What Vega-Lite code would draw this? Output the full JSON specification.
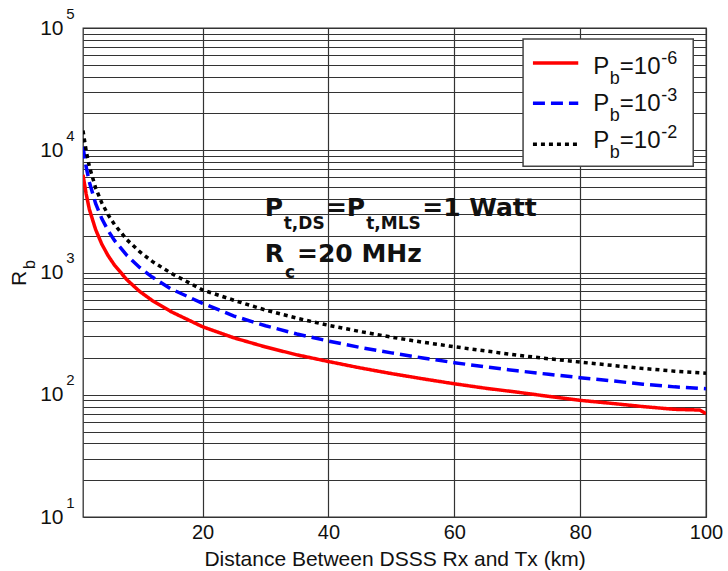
{
  "$schema": "https://vega.github.io/schema/vega-lite/v6.json",
  "width": 623,
  "height": 489,
  "autosize": {"type": "none"},
  "padding": {"left": 83, "top": 28, "right": 22, "bottom": 54},
  "background": "white",
  "config": {
    "view": {"stroke": "#333", "strokeWidth": 1.3},
    "font": "Liberation Sans"
  },
  "datasets": {
    "curves": [
      {"d": 1, "rb": 6300, "series": "red"},
      {"d": 1.5, "rb": 4400, "series": "red"},
      {"d": 2, "rb": 3300, "series": "red"},
      {"d": 3, "rb": 2250, "series": "red"},
      {"d": 4, "rb": 1700, "series": "red"},
      {"d": 5, "rb": 1370, "series": "red"},
      {"d": 6, "rb": 1150, "series": "red"},
      {"d": 8, "rb": 870, "series": "red"},
      {"d": 10, "rb": 700, "series": "red"},
      {"d": 12, "rb": 590, "series": "red"},
      {"d": 15, "rb": 478, "series": "red"},
      {"d": 20, "rb": 360, "series": "red"},
      {"d": 25, "rb": 292, "series": "red"},
      {"d": 30, "rb": 246, "series": "red"},
      {"d": 35, "rb": 212, "series": "red"},
      {"d": 40, "rb": 187, "series": "red"},
      {"d": 45, "rb": 166, "series": "red"},
      {"d": 50, "rb": 149, "series": "red"},
      {"d": 55, "rb": 135, "series": "red"},
      {"d": 60, "rb": 123, "series": "red"},
      {"d": 65, "rb": 113, "series": "red"},
      {"d": 70, "rb": 105, "series": "red"},
      {"d": 75, "rb": 97, "series": "red"},
      {"d": 80, "rb": 90, "series": "red"},
      {"d": 85, "rb": 85, "series": "red"},
      {"d": 90, "rb": 80, "series": "red"},
      {"d": 95, "rb": 76, "series": "red"},
      {"d": 99, "rb": 75, "series": "red"},
      {"d": 100, "rb": 70, "series": "red"},
      {"d": 1, "rb": 10700, "series": "blue"},
      {"d": 1.5, "rb": 7300, "series": "blue"},
      {"d": 2, "rb": 5500, "series": "blue"},
      {"d": 3, "rb": 3670, "series": "blue"},
      {"d": 4, "rb": 2750, "series": "blue"},
      {"d": 5, "rb": 2200, "series": "blue"},
      {"d": 6, "rb": 1830, "series": "blue"},
      {"d": 8, "rb": 1375, "series": "blue"},
      {"d": 10, "rb": 1100, "series": "blue"},
      {"d": 12, "rb": 917, "series": "blue"},
      {"d": 15, "rb": 733, "series": "blue"},
      {"d": 20, "rb": 560, "series": "blue"},
      {"d": 25, "rb": 440, "series": "blue"},
      {"d": 30, "rb": 367, "series": "blue"},
      {"d": 35, "rb": 314, "series": "blue"},
      {"d": 40, "rb": 275, "series": "blue"},
      {"d": 45, "rb": 244, "series": "blue"},
      {"d": 50, "rb": 220, "series": "blue"},
      {"d": 55, "rb": 200, "series": "blue"},
      {"d": 60, "rb": 183, "series": "blue"},
      {"d": 65, "rb": 169, "series": "blue"},
      {"d": 70, "rb": 157, "series": "blue"},
      {"d": 75, "rb": 147, "series": "blue"},
      {"d": 80, "rb": 138, "series": "blue"},
      {"d": 85, "rb": 130, "series": "blue"},
      {"d": 90, "rb": 122, "series": "blue"},
      {"d": 95, "rb": 116, "series": "blue"},
      {"d": 100, "rb": 112, "series": "blue"},
      {"d": 1, "rb": 14500, "series": "black"},
      {"d": 1.5, "rb": 9900, "series": "black"},
      {"d": 2, "rb": 7400, "series": "black"},
      {"d": 3, "rb": 4930, "series": "black"},
      {"d": 4, "rb": 3700, "series": "black"},
      {"d": 5, "rb": 2960, "series": "black"},
      {"d": 6, "rb": 2470, "series": "black"},
      {"d": 8, "rb": 1850, "series": "black"},
      {"d": 10, "rb": 1480, "series": "black"},
      {"d": 12, "rb": 1233, "series": "black"},
      {"d": 15, "rb": 987, "series": "black"},
      {"d": 20, "rb": 720, "series": "black"},
      {"d": 25, "rb": 592, "series": "black"},
      {"d": 30, "rb": 493, "series": "black"},
      {"d": 35, "rb": 423, "series": "black"},
      {"d": 40, "rb": 370, "series": "black"},
      {"d": 45, "rb": 329, "series": "black"},
      {"d": 50, "rb": 296, "series": "black"},
      {"d": 55, "rb": 269, "series": "black"},
      {"d": 60, "rb": 247, "series": "black"},
      {"d": 65, "rb": 228, "series": "black"},
      {"d": 70, "rb": 211, "series": "black"},
      {"d": 75, "rb": 197, "series": "black"},
      {"d": 80, "rb": 185, "series": "black"},
      {"d": 85, "rb": 174, "series": "black"},
      {"d": 90, "rb": 164, "series": "black"},
      {"d": 95, "rb": 156, "series": "black"},
      {"d": 100, "rb": 150, "series": "black"}
    ]
  },
  "resolve": {"axis": {"x": "independent", "y": "independent"}},
  "layer": [
    {
      "data": {"name": "curves"},
      "mark": {"type": "line", "strokeWidth": 3.5, "strokeCap": "butt", "clip": true},
      "encoding": {
        "x": {
          "field": "d", "type": "quantitative",
          "scale": {"domain": [1, 100], "nice": false, "zero": false},
          "axis": {
            "values": [20, 40, 60, 80, 100],
            "title": "Distance Between DSSS Rx and Tx (km)",
            "titleFontSize": 21, "titleFontWeight": "normal", "titleColor": "#111",
            "titleBaseline": "alphabetic", "titleY": 48,
            "labelFontSize": 20, "labelColor": "#111", "labelPadding": 5,
            "labelFlush": false,
            "ticks": false, "domain": false,
            "grid": true, "gridColor": "#333", "gridWidth": 1.2, "gridOpacity": 1
          }
        },
        "y": {
          "field": "rb", "type": "quantitative",
          "scale": {"type": "log", "domain": [10, 100000], "nice": false},
          "axis": {
            "values": [10, 20, 30, 40, 50, 60, 70, 80, 90, 100, 200, 300, 400, 500, 600, 700, 800, 900, 1000, 2000, 3000, 4000, 5000, 6000, 7000, 8000, 9000, 10000, 20000, 30000, 40000, 50000, 60000, 70000, 80000, 90000, 100000],
            "labelExpr": "(datum.value == 10 || datum.value == 100 || datum.value == 1000 || datum.value == 10000 || datum.value == 100000) ? '10' : ''",
            "labelFontSize": 21, "labelColor": "#111", "labelPadding": 20, "labelFlush": false,
            "labelBaseline": "middle", "labelAlign": "right",
            "title": "R", "titleFontSize": 21, "titleFontWeight": "normal", "titleColor": "#111",
            "titleAngle": 270, "titleAlign": "center", "titleBaseline": "alphabetic",
            "titleX": -58, "titleY": 250,
            "ticks": false, "domain": false,
            "grid": true, "gridColor": "#333", "gridWidth": 1.2, "gridOpacity": 1
          }
        },
        "color": {
          "field": "series", "type": "nominal",
          "scale": {"domain": ["red", "blue", "black"], "range": ["#ff0000", "#0000ff", "#000000"]},
          "legend": null
        },
        "strokeDash": {
          "field": "series", "type": "nominal",
          "scale": {"domain": ["red", "blue", "black"], "range": [[1, 0], [12, 6], [4, 4]]},
          "legend": null
        }
      }
    },
    {
      "data": {"values": [{}]},
      "mark": {"type": "rect", "fill": "white", "stroke": "#444", "strokeWidth": 1.5},
      "encoding": {
        "x": {"datum": 70.93, "type": "quantitative", "axis": null},
        "x2": {"datum": 97.97},
        "y": {"datum": 81240, "type": "quantitative",
          "axis": {
            "orient": "left", "labels": false, "ticks": false, "domain": false, "grid": false,
            "title": "b", "titleFontSize": 16, "titleFontWeight": "normal", "titleColor": "#111",
            "titleAngle": 270, "titleAlign": "center", "titleBaseline": "alphabetic",
            "titleX": -49, "titleY": 236
          }
        },
        "y2": {"datum": 7395}
      }
    },
    {
      "data": {"values": [{}]},
      "mark": {"type": "rule", "color": "#ff0000", "strokeWidth": 3.5},
      "encoding": {
        "x": {"datum": 72.5, "type": "quantitative", "axis": null},
        "x2": {"datum": 79.7},
        "y": {"datum": 51660, "type": "quantitative",
          "axis": {
            "orient": "left", "values": [10, 100, 1000, 10000, 100000],
            "labelExpr": "datum.value == 10 ? '1' : datum.value == 100 ? '2' : datum.value == 1000 ? '3' : datum.value == 10000 ? '4' : '5'",
            "labelFontSize": 15, "labelColor": "#111", "labelPadding": 9, "labelOffset": -15,
            "labelAlign": "right", "labelBaseline": "middle", "labelFlush": false, "labelOverlap": false,
            "ticks": false, "domain": false, "grid": false, "title": null
          }
        }
      }
    },
    {
      "data": {"values": [{}]},
      "mark": {"type": "rule", "color": "#0000ff", "strokeWidth": 3.5, "strokeDash": [12, 6]},
      "encoding": {
        "x": {"datum": 72.5, "type": "quantitative", "axis": null},
        "x2": {"datum": 79.7},
        "y": {"datum": 24280, "type": "quantitative", "axis": null}
      }
    },
    {
      "data": {"values": [{}]},
      "mark": {"type": "rule", "color": "#000000", "strokeWidth": 3.5, "strokeDash": [4, 4]},
      "encoding": {
        "x": {"datum": 72.5, "type": "quantitative", "axis": null},
        "x2": {"datum": 79.7},
        "y": {"datum": 11200, "type": "quantitative", "axis": null}
      }
    },
    {
      "data": {"values": [{}]},
      "mark": {"type": "text", "fontSize": 24, "align": "left", "baseline": "alphabetic", "color": "#111"},
      "encoding": {
        "x": {"datum": 82.1, "type": "quantitative", "axis": null},
        "y": {"datum": 41980, "type": "quantitative", "axis": null},
        "text": {"value": "P"}
      }
    },
    {
      "data": {"values": [{}]},
      "mark": {"type": "text", "fontSize": 18, "align": "left", "baseline": "alphabetic", "color": "#111"},
      "encoding": {
        "x": {"datum": 84.7, "type": "quantitative", "axis": null},
        "y": {"datum": 34750, "type": "quantitative", "axis": null},
        "text": {"value": "b"}
      }
    },
    {
      "data": {"values": [{}]},
      "mark": {"type": "text", "fontSize": 24, "align": "left", "baseline": "alphabetic", "color": "#111"},
      "encoding": {
        "x": {"datum": 86.3, "type": "quantitative", "axis": null},
        "y": {"datum": 41980, "type": "quantitative", "axis": null},
        "text": {"value": "=10"}
      }
    },
    {
      "data": {"values": [{}]},
      "mark": {"type": "text", "fontSize": 18, "align": "left", "baseline": "alphabetic", "color": "#111"},
      "encoding": {
        "x": {"datum": 92.9, "type": "quantitative", "axis": null},
        "y": {"datum": 50690, "type": "quantitative", "axis": null},
        "text": {"value": "-6"}
      }
    },
    {
      "data": {"values": [{}]},
      "mark": {"type": "text", "fontSize": 24, "align": "left", "baseline": "alphabetic", "color": "#111"},
      "encoding": {
        "x": {"datum": 82.1, "type": "quantitative", "axis": null},
        "y": {"datum": 20870, "type": "quantitative", "axis": null},
        "text": {"value": "P"}
      }
    },
    {
      "data": {"values": [{}]},
      "mark": {"type": "text", "fontSize": 18, "align": "left", "baseline": "alphabetic", "color": "#111"},
      "encoding": {
        "x": {"datum": 84.7, "type": "quantitative", "axis": null},
        "y": {"datum": 17290, "type": "quantitative", "axis": null},
        "text": {"value": "b"}
      }
    },
    {
      "data": {"values": [{}]},
      "mark": {"type": "text", "fontSize": 24, "align": "left", "baseline": "alphabetic", "color": "#111"},
      "encoding": {
        "x": {"datum": 86.3, "type": "quantitative", "axis": null},
        "y": {"datum": 20870, "type": "quantitative", "axis": null},
        "text": {"value": "=10"}
      }
    },
    {
      "data": {"values": [{}]},
      "mark": {"type": "text", "fontSize": 18, "align": "left", "baseline": "alphabetic", "color": "#111"},
      "encoding": {
        "x": {"datum": 92.9, "type": "quantitative", "axis": null},
        "y": {"datum": 25210, "type": "quantitative", "axis": null},
        "text": {"value": "-3"}
      }
    },
    {
      "data": {"values": [{}]},
      "mark": {"type": "text", "fontSize": 24, "align": "left", "baseline": "alphabetic", "color": "#111"},
      "encoding": {
        "x": {"datum": 82.1, "type": "quantitative", "axis": null},
        "y": {"datum": 10390, "type": "quantitative", "axis": null},
        "text": {"value": "P"}
      }
    },
    {
      "data": {"values": [{}]},
      "mark": {"type": "text", "fontSize": 18, "align": "left", "baseline": "alphabetic", "color": "#111"},
      "encoding": {
        "x": {"datum": 84.7, "type": "quantitative", "axis": null},
        "y": {"datum": 8600, "type": "quantitative", "axis": null},
        "text": {"value": "b"}
      }
    },
    {
      "data": {"values": [{}]},
      "mark": {"type": "text", "fontSize": 24, "align": "left", "baseline": "alphabetic", "color": "#111"},
      "encoding": {
        "x": {"datum": 86.3, "type": "quantitative", "axis": null},
        "y": {"datum": 10390, "type": "quantitative", "axis": null},
        "text": {"value": "=10"}
      }
    },
    {
      "data": {"values": [{}]},
      "mark": {"type": "text", "fontSize": 18, "align": "left", "baseline": "alphabetic", "color": "#111"},
      "encoding": {
        "x": {"datum": 92.9, "type": "quantitative", "axis": null},
        "y": {"datum": 12540, "type": "quantitative", "axis": null},
        "text": {"value": "-2"}
      }
    },
    {
      "data": {"values": [{}]},
      "mark": {"type": "text", "font": "DejaVu Sans", "fontSize": 25, "fontWeight": "bold", "align": "left", "baseline": "alphabetic", "color": "#111"},
      "encoding": {
        "x": {"datum": 29.9, "type": "quantitative", "axis": null},
        "y": {"datum": 2877, "type": "quantitative", "axis": null},
        "text": {"value": "P"}
      }
    },
    {
      "data": {"values": [{}]},
      "mark": {"type": "text", "font": "DejaVu Sans", "fontSize": 17, "fontWeight": "bold", "align": "left", "baseline": "alphabetic", "color": "#111"},
      "encoding": {
        "x": {"datum": 32.9, "type": "quantitative", "axis": null},
        "y": {"datum": 2250, "type": "quantitative", "axis": null},
        "text": {"value": "t,DS"}
      }
    },
    {
      "data": {"values": [{}]},
      "mark": {"type": "text", "font": "DejaVu Sans", "fontSize": 25, "fontWeight": "bold", "align": "left", "baseline": "alphabetic", "color": "#111"},
      "encoding": {
        "x": {"datum": 39.6, "type": "quantitative", "axis": null},
        "y": {"datum": 2877, "type": "quantitative", "axis": null},
        "text": {"value": "=P"}
      }
    },
    {
      "data": {"values": [{}]},
      "mark": {"type": "text", "font": "DejaVu Sans", "fontSize": 17, "fontWeight": "bold", "align": "left", "baseline": "alphabetic", "color": "#111"},
      "encoding": {
        "x": {"datum": 46.0, "type": "quantitative", "axis": null},
        "y": {"datum": 2250, "type": "quantitative", "axis": null},
        "text": {"value": "t,MLS"}
      }
    },
    {
      "data": {"values": [{}]},
      "mark": {"type": "text", "font": "DejaVu Sans", "fontSize": 25, "fontWeight": "bold", "align": "left", "baseline": "alphabetic", "color": "#111"},
      "encoding": {
        "x": {"datum": 54.9, "type": "quantitative", "axis": null},
        "y": {"datum": 2877, "type": "quantitative", "axis": null},
        "text": {"value": "=1 Watt"}
      }
    },
    {
      "data": {"values": [{}]},
      "mark": {"type": "text", "font": "DejaVu Sans", "fontSize": 25, "fontWeight": "bold", "align": "left", "baseline": "alphabetic", "color": "#111"},
      "encoding": {
        "x": {"datum": 29.9, "type": "quantitative", "axis": null},
        "y": {"datum": 1208, "type": "quantitative", "axis": null},
        "text": {"value": "R"}
      }
    },
    {
      "data": {"values": [{}]},
      "mark": {"type": "text", "font": "DejaVu Sans", "fontSize": 17, "fontWeight": "bold", "align": "left", "baseline": "alphabetic", "color": "#111"},
      "encoding": {
        "x": {"datum": 33.1, "type": "quantitative", "axis": null},
        "y": {"datum": 910, "type": "quantitative", "axis": null},
        "text": {"value": "c"}
      }
    },
    {
      "data": {"values": [{}]},
      "mark": {"type": "text", "font": "DejaVu Sans", "fontSize": 25, "fontWeight": "bold", "align": "left", "baseline": "alphabetic", "color": "#111"},
      "encoding": {
        "x": {"datum": 35.0, "type": "quantitative", "axis": null},
        "y": {"datum": 1208, "type": "quantitative", "axis": null},
        "text": {"value": "=20 MHz"}
      }
    }
  ]
}
